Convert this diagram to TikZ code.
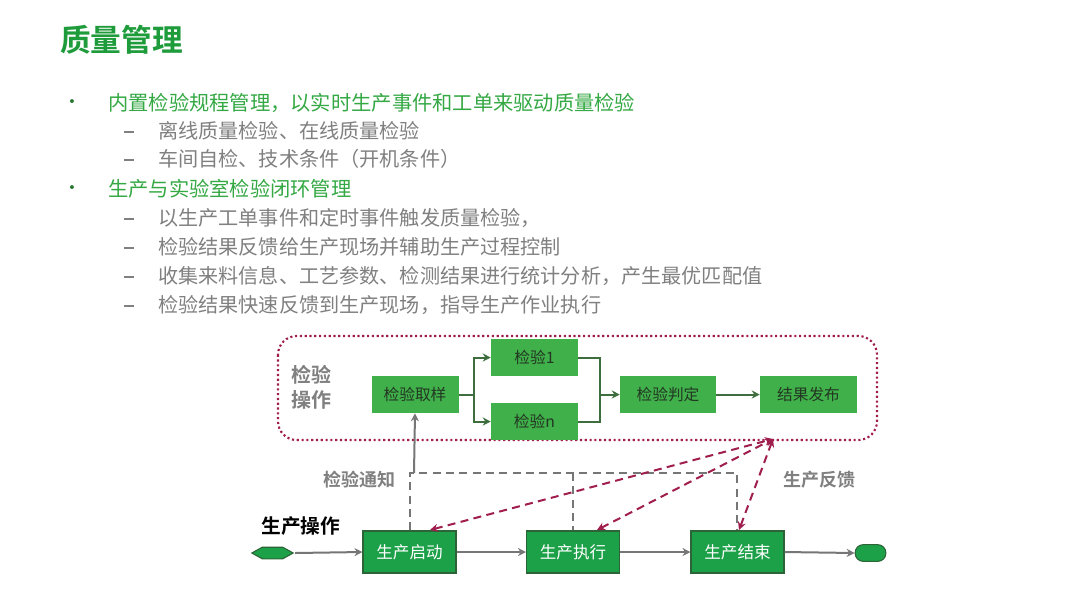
\documentclass[tikz,border=0pt]{standalone}
\usepackage{fontspec}
\setmainfont{Noto Sans CJK SC}
\newfontfamily\cjkb{Noto Sans CJK SC Bold}
\newfontfamily\djv{DejaVu Sans}
\usetikzlibrary{arrows.meta,shapes.geometric}
\definecolor{titlegreen}{RGB}{30,155,58}
\definecolor{bulgreen}{RGB}{51,168,67}
\definecolor{txtgray}{RGB}{128,128,128}
\definecolor{boxgreen}{RGB}{64,176,74}
\definecolor{boxtxt}{RGB}{35,55,35}
\definecolor{conngreen}{RGB}{62,110,62}
\definecolor{botgreen}{RGB}{28,160,72}
\definecolor{botborder}{RGB}{45,100,55}
\definecolor{linegray}{RGB}{118,118,118}
\definecolor{maroon}{RGB}{160,30,78}
\tikzset{
  topbox/.style={fill=boxgreen, draw=none, text=boxtxt, minimum width=65.25pt, minimum height=27.75pt, inner sep=0pt, font=\fontsize{11.8pt}{13pt}\selectfont},
  botbox/.style={fill=botgreen, draw=botborder, line width=0.8pt, text=white, minimum width=69.75pt, minimum height=31.5pt, inner sep=0pt, font=\fontsize{12.4pt}{14pt}\selectfont},
  gconn/.style={draw=conngreen, line width=1.5pt, -{Stealth[length=6pt,width=6pt]}},
  grayarr/.style={draw=linegray, line width=1.5pt, -{Stealth[length=6pt,width=6pt]}},
  graydash/.style={draw=linegray, line width=1.5pt, dash pattern=on 6pt off 4pt},
  reddash/.style={draw=maroon, line width=1.5pt, dash pattern=on 6pt off 4pt, {Stealth[length=6pt,width=6pt]}-{Stealth[length=6pt,width=6pt]}},
  bultxt/.style={anchor=west, text=bulgreen, font=\fontsize{15.2pt}{17pt}\selectfont, inner sep=0pt},
  subtxt/.style={anchor=west, text=txtgray, font=\fontsize{15.1pt}{17pt}\selectfont, inner sep=0pt},
  lbl/.style={text=txtgray, font=\cjkb\fontsize{13.5pt}{16pt}\selectfont, inner sep=0pt},
  dashmark/.style={fill=txtgray, minimum width=8pt, minimum height=1.1pt, inner sep=0pt},
  dotmark/.style={text=bulgreen!70!black, font=\djv\fontsize{10pt}{14pt}\selectfont, inner sep=0pt},
}
\begin{document}
\begin{tikzpicture}[x=0.75pt,y=-0.75pt]
\useasboundingbox (0,0) rectangle (1080,608);
\fill[white] (0,0) rectangle (1080,608);
% title
\node[anchor=west, text=titlegreen, font=\cjkb\fontsize{23pt}{26pt}\selectfont, inner sep=0pt] (title) at (60,40) {质量管理};
% bullets
\node[dotmark] (d1) at (72,103) {•};
\node[bultxt] (b1) at (108,103) {内置检验规程管理，以实时生产事件和工单来驱动质量检验};
\node[dashmark] (s1d) at (129,132) {};
\node[subtxt] (s1) at (158,131) {离线质量检验、在线质量检验};
\node[dashmark] (s2d) at (129,160) {};
\node[subtxt] (s2) at (158,159) {车间自检、技术条件（开机条件）};
\node[dotmark] (d2) at (72,189) {•};
\node[bultxt] (b2) at (108,189) {生产与实验室检验闭环管理};
\node[dashmark] (s3d) at (129,219) {};
\node[subtxt] (s3) at (158,218) {以生产工单事件和定时事件触发质量检验，};
\node[dashmark] (s4d) at (129,248) {};
\node[subtxt] (s4) at (158,247) {检验结果反馈给生产现场并辅助生产过程控制};
\node[dashmark] (s5d) at (129,277) {};
\node[subtxt] (s5) at (158,276) {收集来料信息、工艺参数、检测结果进行统计分析，产生最优匹配值};
\node[dashmark] (s6d) at (129,306) {};
\node[subtxt] (s6) at (158,305) {检验结果快速反馈到生产现场，指导生产作业执行};
% dotted frame
\draw[maroon, line width=1.6pt, dotted, rounded corners=14pt] (278,336) rectangle (877,440);
\node[lbl, align=left, font=\cjkb\fontsize{15pt}{19pt}\selectfont] (op) at (311,387) {检验\\操作};
% top boxes
\node[topbox] (qy) at (415,394.5) {检验取样};
\node[topbox] (j1) at (534.5,357.5) {检验1};
\node[topbox] (jn) at (534.5,421.5) {检验n};
\node[topbox, minimum width=72pt] (pd) at (668,394.5) {检验判定};
\node[topbox, minimum width=72.75pt] (fb) at (808.5,394.5) {结果发布};
\coordinate (br) at (474,394.5);
\coordinate (mg) at (600,394.5);
\draw[conngreen, line width=1.5pt] (qy.east) -- (br);
\draw[gconn] (br) |- (j1.west);
\draw[gconn] (br) |- (jn.west);
\draw[conngreen, line width=1.5pt] (j1.east) -| (mg);
\draw[conngreen, line width=1.5pt] (jn.east) -| (mg);
\draw[gconn] (mg) -- (pd.west);
\draw[gconn] (pd.east) -- (fb.west);
% bottom flow
\node[botbox] (ks) at (409.5,552) {生产启动};
\node[botbox] (zx) at (573,552) {生产执行};
\node[botbox] (js) at (737.5,552) {生产结束};
\node[draw=botborder, fill=botgreen, line width=0.8pt, regular polygon, regular polygon sides=6, shape border rotate=0, minimum size=10pt, xscale=3.1, inner sep=0pt] (st) at (272.5,553) {};
\node[draw=botborder, fill=botgreen, line width=0.8pt, rounded corners=6pt, minimum width=23pt, minimum height=12.5pt, inner sep=0pt] (en) at (870.5,553) {};
\draw[grayarr] (st.east) -- (ks.west);
\draw[grayarr] (ks.east) -- (zx.west);
\draw[grayarr] (zx.east) -- (js.west);
\draw[grayarr] (js.east) -- (en.west);
\node[anchor=west, inner sep=0pt, font=\cjkb\fontsize{14.8pt}{17pt}\selectfont, text=black] (sc) at (261,526) {生产操作};
% dashed gray network
\coordinate (n1) at (410,473);
\coordinate (n2) at (573,473);
\coordinate (n3) at (737,473);
\coordinate (n0) at (414,473);
\draw[graydash] (ks.north -| n1) -- (n1) -- (n3) -- (js.north -| n3);
\draw[graydash] (n2) -- (zx.north);
\draw[grayarr] (n0) -- (qy.south);
\node[lbl] (tz) at (359,480) {检验通知};
\node[lbl] (fk) at (819,480) {生产反馈};
% red dashed feedback
\coordinate (rf) at (773,439);
\coordinate (r1) at (430,530);
\coordinate (r2) at (597,530);
\coordinate (r3) at (739,530);
\draw[reddash] (r1) -- (rf);
\draw[reddash] (r2) -- (rf);
\draw[reddash] (r3) -- (rf);
\end{tikzpicture}
\end{document}
